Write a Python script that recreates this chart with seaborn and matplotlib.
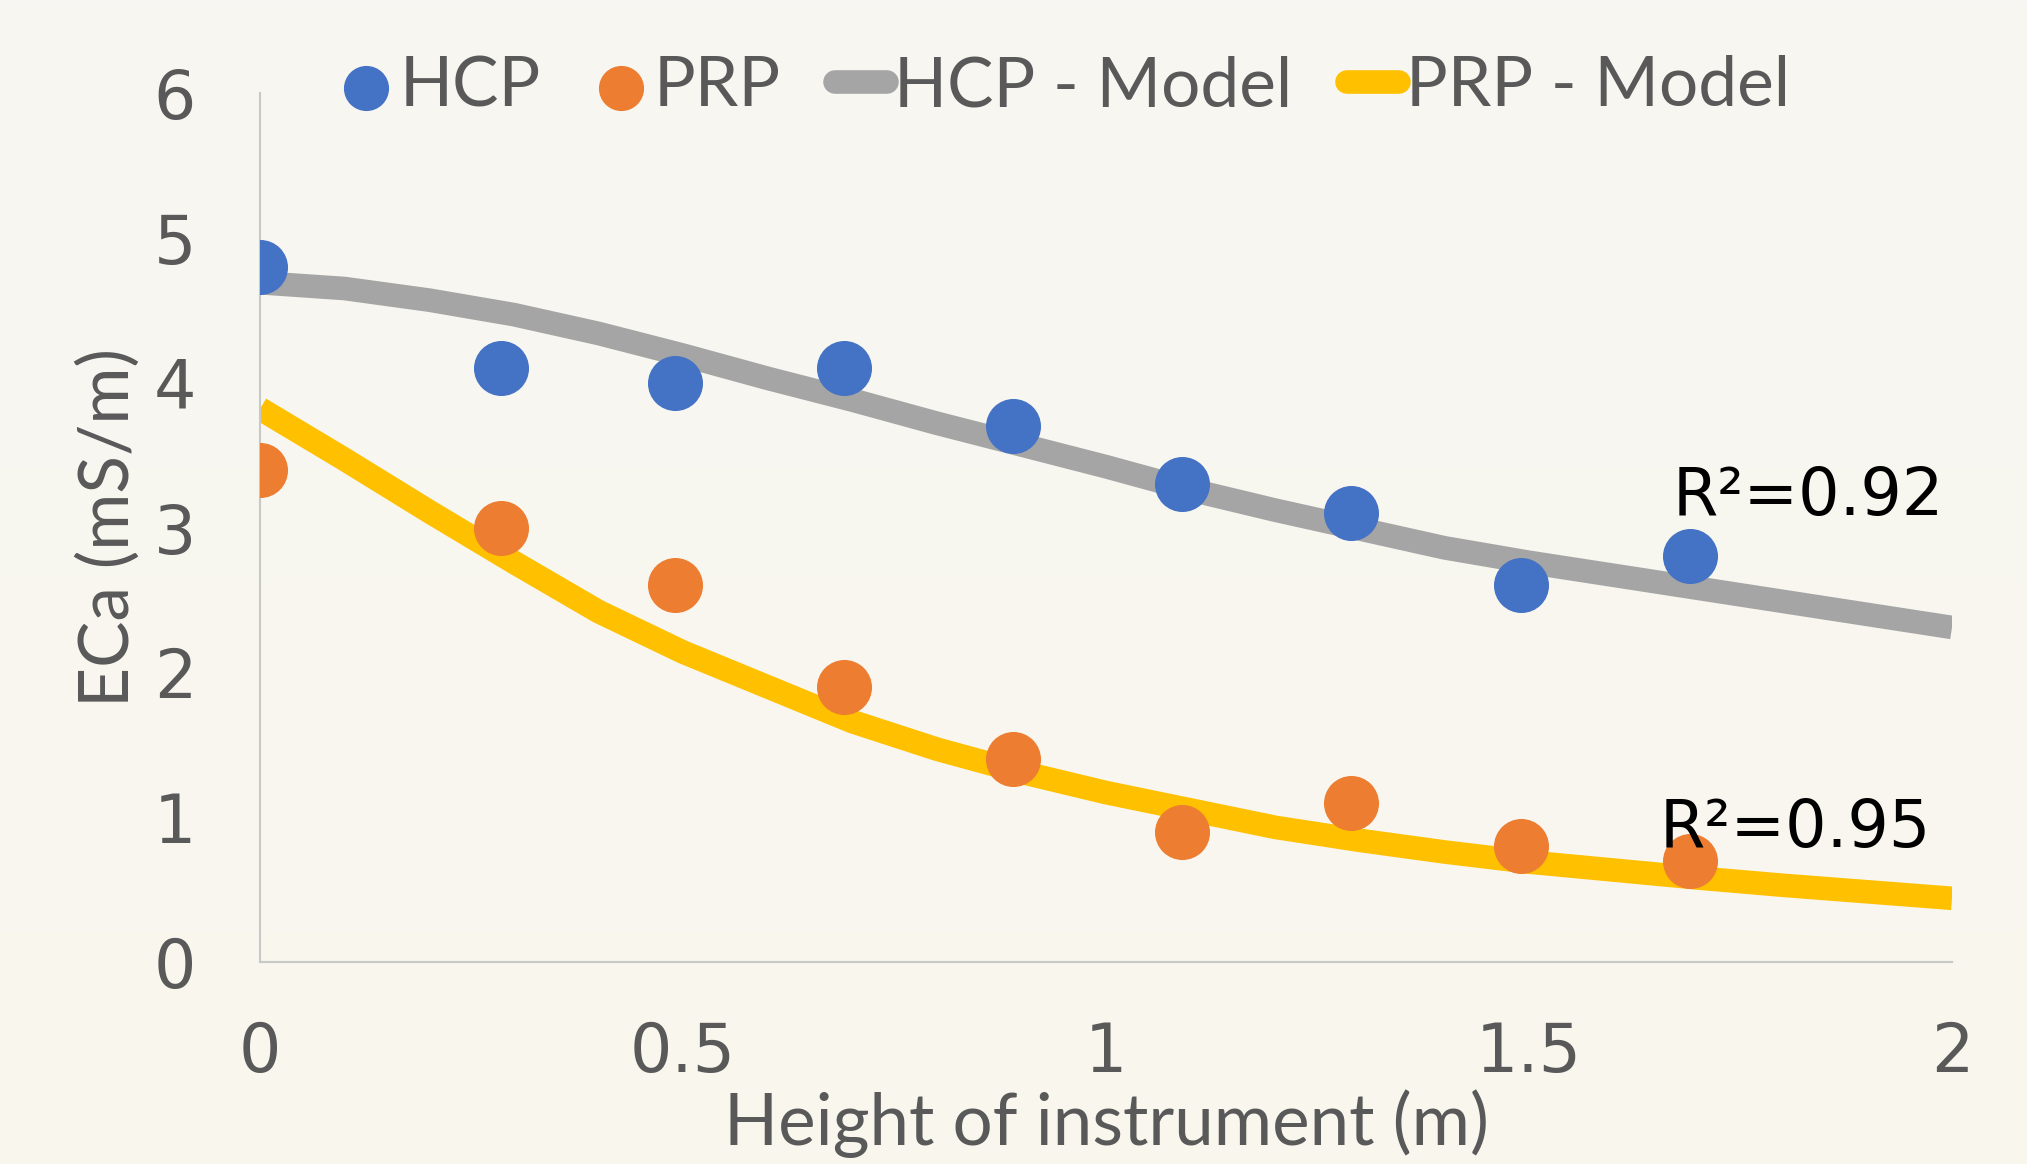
import numpy as np
import pandas as pd
import seaborn as sns
import matplotlib.pyplot as plt
from matplotlib.colors import LinearSegmentedColormap

# ---- data ----
height_m = [0, 0.285, 0.49, 0.69, 0.89, 1.09, 1.29, 1.49, 1.69]
hcp_obs = [4.8, 4.1, 4.0, 4.1, 3.7, 3.3, 3.1, 2.6, 2.8]
prp_obs = [3.4, 3.0, 2.6, 1.9, 1.4, 0.9, 1.1, 0.8, 0.7]

model_height = [0.0, 0.1, 0.2, 0.3, 0.4, 0.5, 0.6, 0.7, 0.8, 0.9, 1.0,
                1.1, 1.2, 1.3, 1.4, 1.5, 1.6, 1.7, 1.8, 1.9, 2.0]
hcp_model = [4.69, 4.65, 4.57, 4.47, 4.34, 4.19, 4.03, 3.88, 3.72, 3.57, 3.42,
             3.26, 3.12, 2.99, 2.86, 2.76, 2.67, 2.58, 2.49, 2.40, 2.31]
prp_model = [3.82, 3.47, 3.11, 2.76, 2.42, 2.14, 1.90, 1.66, 1.47, 1.31, 1.17,
             1.05, 0.93, 0.84, 0.76, 0.69, 0.635, 0.58, 0.53, 0.485, 0.44]

x_ticks = [0, 0.5, 1, 1.5, 2]
x_tick_labels = ["0", "0.5", "1", "1.5", "2"]
y_ticks = [0, 1, 2, 3, 4, 5, 6]
y_tick_labels = ["0", "1", "2", "3", "4", "5", "6"]

series_labels = ["HCP", "PRP", "HCP - Model", "PRP - Model"]
r2_labels = ["R\u00b2=0.92", "R\u00b2=0.95"]

# ---- style ----
sns.set_theme(style="white")
plt.rcParams["font.family"] = ["Lato", "DejaVu Sans"]
NUM_FONT = ["DejaVu Sans"]

C_BLUE = "#4472C4"
C_ORANGE = "#ED7D31"
C_GRAY = "#A5A5A5"
C_YELLOW = "#FFC000"
C_TEXT = "#595959"

fig = plt.figure(figsize=(20.27, 11.64), dpi=100)

# subtle background gradient
bg_ax = fig.add_axes([0, 0, 1, 1], zorder=-10)
cmap = LinearSegmentedColormap.from_list("bg", ["#F9F7ED", "#F7F6F2"])
bg_ax.imshow(np.linspace(1, 0, 256).reshape(-1, 1), aspect="auto", cmap=cmap,
             extent=[0, 1, 0, 1], origin="upper")
bg_ax.set_axis_off()

ax = fig.add_axes([0.1283, 0.1735, 0.8347, 0.7466])
ax.set_facecolor("none")

sns.lineplot(x=model_height, y=hcp_model, ax=ax, color=C_GRAY, linewidth=17,
             label=series_labels[2], zorder=2, solid_capstyle="butt")
sns.lineplot(x=model_height, y=prp_model, ax=ax, color=C_YELLOW, linewidth=17,
             label=series_labels[3], zorder=2, solid_capstyle="butt")
sns.scatterplot(x=height_m, y=hcp_obs, ax=ax, color=C_BLUE, s=1570,
                linewidth=0, label=series_labels[0], zorder=3)
sns.scatterplot(x=height_m, y=prp_obs, ax=ax, color=C_ORANGE, s=1570,
                linewidth=0, label=series_labels[1], zorder=3)

ax.set_xlim(0, 2)
ax.set_ylim(0, 6)
ax.set_xticks(x_ticks)
ax.set_xticklabels(x_tick_labels, family=NUM_FONT)
ax.set_yticks(y_ticks)
ax.set_yticklabels(y_tick_labels, family=NUM_FONT)
ax.tick_params(axis="both", length=0, labelsize=48, colors=C_TEXT)
ax.tick_params(axis="y", pad=46)
ax.tick_params(axis="x", pad=42)

for side in ["top", "right"]:
    ax.spines[side].set_visible(False)
for side in ["left", "bottom"]:
    ax.spines[side].set_color("#C8C8C8")
    ax.spines[side].set_linewidth(1.5)

ax.set_xlabel("Height of instrument (m)", fontsize=51, color=C_TEXT, labelpad=2)
ax.set_ylabel("ECa (mS/m)", fontsize=50, color=C_TEXT, labelpad=9)

ax.text(1.670, 3.087, r2_labels[0], fontsize=47, color="black",
        ha="left", va="baseline", zorder=5, family=NUM_FONT)
ax.text(1.654, 0.794, r2_labels[1], fontsize=47, color="black",
        ha="left", va="baseline", zorder=5, family=NUM_FONT)

handles, labels = ax.get_legend_handles_labels()
hmap = dict(zip(labels, handles))
leg = fig.legend([hmap[l] for l in series_labels], series_labels,
                 loc="center", bbox_to_anchor=(0.5254, 0.9253), ncol=4,
                 frameon=False, fontsize=50, labelcolor=C_TEXT,
                 handlelength=0.75, handletextpad=0.1, columnspacing=0.78,
                 markerscale=0.82, borderpad=0)
for line in leg.get_lines():
    line.set_solid_capstyle("round")
if ax.get_legend() is not None:
    ax.get_legend().remove()

fig.savefig("out.png", dpi=100, facecolor=fig.get_facecolor())
